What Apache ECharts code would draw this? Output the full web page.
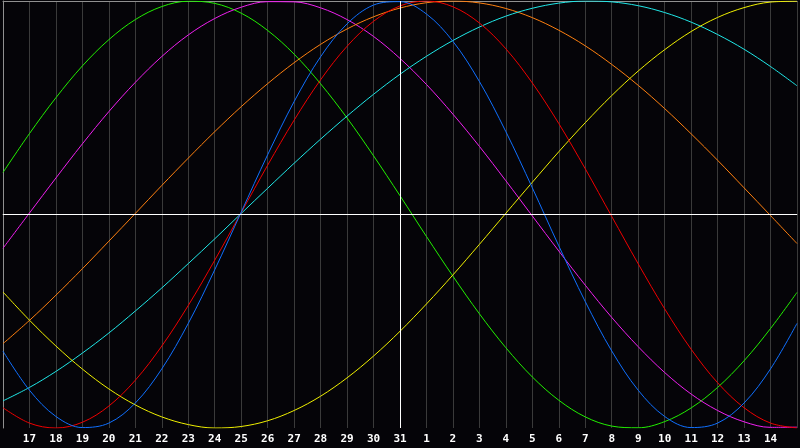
<!DOCTYPE html>
<html>
<head>
<meta charset="utf-8">
<script src="https://cdn.jsdelivr.net/npm/echarts@6/dist/echarts.min.js"></script>
<style>
html,body{margin:0;padding:0;background:#050408;}
#chart{width:800px;height:448px;}
</style>
</head>
<body>
<div id="chart"></div>
<script>
const days = ['16','17','18','19','20','21','22','23','24','25','26','27','28','29','30','31','1','2','3','4','5','6','7','8','9','10','11','12','13','14','15'];

const greenVals = [0.197,0.379,0.547,0.696,0.819,0.913,0.974,0.999,0.989,0.943,0.862,0.751,0.612,0.452,0.275,0.088,-0.103,-0.289,-0.465,-0.624,-0.761,-0.870,-0.948,-0.991,-0.999,-0.970,-0.906,-0.810,-0.685,-0.534,-0.365];
const magentaVals = [-0.158,0.007,0.171,0.331,0.482,0.619,0.740,0.841,0.918,0.971,0.997,0.996,0.968,0.913,0.834,0.731,0.609,0.470,0.319,0.158,-0.007,-0.171,-0.331,-0.482,-0.619,-0.740,-0.841,-0.918,-0.971,-0.997,-0.996];
const orangeVals = [-0.605,-0.496,-0.378,-0.254,-0.125,0.005,0.136,0.264,0.388,0.505,0.613,0.711,0.797,0.869,0.926,0.967,0.992,1.000,0.991,0.965,0.922,0.863,0.790,0.703,0.605,0.496,0.378,0.254,0.125,-0.005,-0.136];
const blueVals = [-0.640,-0.823,-0.946,-0.998,-0.977,-0.883,-0.723,-0.510,-0.259,0.011,0.280,0.529,0.739,0.893,0.981,0.997,0.939,0.811,0.623,0.388,0.125,-0.147,-0.408,-0.639,-0.823,-0.946,-0.998,-0.977,-0.883,-0.723,-0.510];
const redVals = [-0.905,-0.977,-1.000,-0.973,-0.897,-0.776,-0.616,-0.426,-0.214,0.009,0.231,0.442,0.631,0.788,0.905,0.977,1.000,0.973,0.897,0.776,0.616,0.426,0.214,-0.009,-0.231,-0.442,-0.631,-0.788,-0.905,-0.977,-1.000];
const cyanVals = [-0.873,-0.810,-0.735,-0.649,-0.555,-0.452,-0.344,-0.230,-0.114,0.005,0.123,0.240,0.353,0.461,0.563,0.657,0.741,0.815,0.878,0.929,0.966,0.990,1.000,0.996,0.978,0.946,0.901,0.843,0.774,0.693,0.603];
const yellowVals = [-0.363,-0.495,-0.616,-0.724,-0.817,-0.892,-0.948,-0.984,-1.000,-0.993,-0.966,-0.918,-0.851,-0.765,-0.663,-0.547,-0.419,-0.283,-0.140,0.006,0.151,0.294,0.430,0.557,0.672,0.772,0.857,0.923,0.969,0.995,0.999];

const seriesDefs = [
  {name:'green', color:'#22f000', data:greenVals},
  {name:'magenta', color:'#f020f0', data:magentaVals},
  {name:'orange', color:'#ff8010', data:orangeVals},
  {name:'cyan', color:'#20e8e8', data:cyanVals},
  {name:'yellow', color:'#f0f000', data:yellowVals},
  {name:'red', color:'#f00000', data:redVals},
  {name:'blue', color:'#1070ff', data:blueVals}
];

const chart = echarts.init(document.getElementById('chart'));
const series = [{
  type:'line', data:[], silent:true, z:1,
  markLine:{
    silent:true, symbol:'none', label:{show:false},
    lineStyle:{color:'#ffffff', width:1, type:'solid'},
    data:[{xAxis:'31'},{yAxis:0}]
  }
}];
seriesDefs.forEach(s => {
  series.push({
    name:s.name, type:'line', data:s.data, smooth:0.35, showSymbol:false,
    symbol:'none', z:3, silent:true,
    lineStyle:{color:s.color, width:1}
  });
});

chart.setOption({
  backgroundColor:'#050408',
  animation:false,
  grid:{left:0, right:0, top:1, bottom:20, containLabel:false},
  xAxis:[{
    type:'category', data:days, boundaryGap:false,
    axisLine:{show:true, lineStyle:{color:'#a0a0a0', width:1}},
    axisTick:{show:false},
    axisLabel:{
      color:'#ffffff', fontFamily:'DejaVu Sans Mono', fontWeight:'bold', fontSize:11,
      margin:6, interval:0,
      formatter:(v, i) => (i === 0 || i === days.length - 1) ? '' : v
    },
    splitLine:{show:true, interval:0, lineStyle:{color:'#3a3a3a', width:1}}
  },{
    type:'category', data:days, boundaryGap:false, position:'top',
    axisLine:{show:true, lineStyle:{color:'#909090', width:1}},
    axisTick:{show:false}, axisLabel:{show:false}, splitLine:{show:false}
  }],
  yAxis:{
    type:'value', min:-1, max:1,
    axisLine:{show:true, lineStyle:{color:'#909090', width:1}},
    axisTick:{show:false}, axisLabel:{show:false}, splitLine:{show:false}
  },
  series:series
});
</script>
</body>
</html>
